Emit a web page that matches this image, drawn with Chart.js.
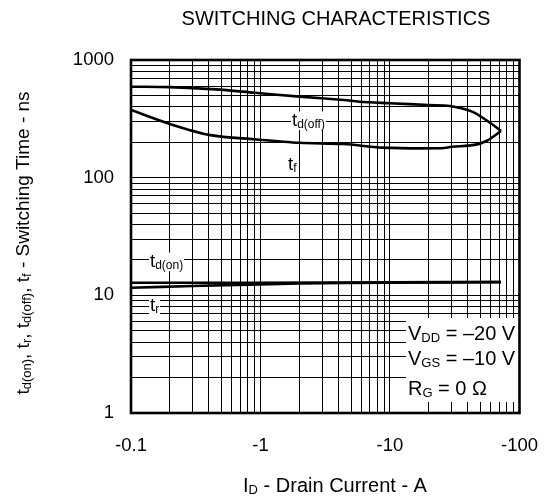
<!DOCTYPE html>
<html>
<head>
<meta charset="utf-8">
<script src="https://cdn.jsdelivr.net/npm/chart.js@4.4.0/dist/chart.umd.min.js"></script>
<style>
  html, body { margin: 0; padding: 0; background: #fff; }
  #wrap { width: 560px; height: 500px; }
</style>
</head>
<body>
<div id="wrap"><canvas id="switchChart" width="560" height="500"></canvas></div>
<script>
// Drain current is negative (P-channel); values below are |ID| in A, tick labels carry the sign
const tdOffCurrent = [0.1, 0.2, 0.45, 0.9, 2, 4.4, 5.8, 10, 20, 29, 43, 60, 72];
const tdOffTime = [593, 588, 563, 527, 488, 457, 442, 429, 414, 406, 364, 290, 249];
const tfCurrent = [0.1, 0.2, 0.41, 0.9, 2, 4.4, 8.7, 25, 30, 45, 56, 72];
const tfTime = [376, 286, 230, 212, 198, 193, 180, 178, 183, 190, 206, 249];
const tdOnCurrent = [0.1, 1, 10, 72];
const tdOnTime = [12.8, 12.8, 12.9, 13.0];
const trCurrent = [0.1, 0.3, 1, 2, 10, 72];
const trTime = [11.6, 12.0, 12.4, 12.6, 12.8, 12.95];

const xTickValues = [0.1, 1, 10, 100];
const xTickLabels = ["-0.1", "-1", "-10", "-100"];
const yTickValues = [1, 10, 100, 1000];
const yTickLabels = ["1", "10", "100", "1000"];

const FONT = "'Liberation Sans', Arial, sans-serif";

// grid lines at 1..9 of every decade
function decadeGrid(min, max) {
  const out = [];
  for (let d = min; d < max * 0.999; d *= 10) {
    for (let k = 1; k < 10; k++) out.push(d * k);
  }
  out.push(max);
  return out;
}

function labelFor(value, values, labels) {
  const i = values.findIndex((t) => Math.abs(t - value) / t < 1e-6);
  return i >= 0 ? labels[i] : "";
}

function toPoints(xs, ys) {
  return xs.map((x, i) => ({ x: x, y: ys[i] }));
}

// text with subscripts: parts = [[text, isSub], ...], y is the baseline
function richText(ctx, parts, x, y, size, measureOnly) {
  let cx = x;
  parts.forEach(([t, sub]) => {
    ctx.font = (sub ? Math.round(size * 0.66) : size) + "px " + FONT;
    if (!measureOnly) ctx.fillText(t, cx, y + (sub ? 1.5 : 0));
    cx += ctx.measureText(t).width;
  });
  return cx - x;
}

function labelWithBg(ctx, parts, x, y, size) {
  ctx.textAlign = "left";
  ctx.textBaseline = "alphabetic";
  const w = richText(ctx, parts, x, y, size, true);
  ctx.fillStyle = "#fff";
  ctx.fillRect(x - 1, y - size * 0.78, w + 2, size * 1.0);
  ctx.fillStyle = "#000";
  richText(ctx, parts, x, y, size);
}

const decor = {
  id: "decor",
  afterDatasetsDraw(chart) {
    const { ctx, chartArea: a } = chart;
    ctx.save();

    // curve labels
    labelWithBg(ctx, [["t", false], ["d(off)", true]], 292, 126, 18.5);
    labelWithBg(ctx, [["t", false], ["f", true]], 288, 170, 18.5);
    labelWithBg(ctx, [["t", false], ["d(on)", true]], 150, 267, 18.5);
    labelWithBg(ctx, [["t", false], ["r", true]], 150, 311, 18.5);

    // test conditions box
    ctx.fillStyle = "#fff";
    ctx.fillRect(406, 318, 115, 84);
    ctx.fillStyle = "#000";
    ctx.textAlign = "left";
    ctx.textBaseline = "alphabetic";
    richText(ctx, [["V", false], ["DD", true], [" = \u201320 V", false]], 408, 340, 20);
    richText(ctx, [["V", false], ["GS", true], [" = \u201310 V", false]], 408, 365, 20);
    richText(ctx, [["R", false], ["G", true], [" = 0 \u03A9", false]], 408, 395, 20);

    // heavy frame
    ctx.strokeStyle = "#000";
    ctx.lineWidth = 2.6;
    ctx.strokeRect(a.left, a.top, a.right - a.left, a.bottom - a.top);
    ctx.restore();
  },
  afterDraw(chart) {
    const ctx = chart.ctx;
    ctx.save();
    ctx.fillStyle = "#000";
    ctx.textBaseline = "alphabetic";

    // title
    ctx.textAlign = "center";
    ctx.font = "20px " + FONT;
    ctx.fillText("SWITCHING CHARACTERISTICS", 336, 25);

    // x axis title
    const xParts = [["I", false], ["D", true], [" - Drain Current - A", false]];
    ctx.textAlign = "left";
    const xw = richText(ctx, xParts, 0, 0, 20, true);
    richText(ctx, xParts, 335 - xw / 2, 492, 20);

    // y axis title (rotated)
    const yParts = [
      ["t", false], ["d(on)", true], [", t", false], ["r", true],
      [", t", false], ["d(off)", true], [", t", false], ["f", true],
      [" - Switching Time - ns", false],
    ];
    const yw = richText(ctx, yParts, 0, 0, 19, true);
    ctx.translate(29, 243);
    ctx.rotate(-Math.PI / 2);
    richText(ctx, yParts, -yw / 2, 0, 19);
    ctx.restore();
  },
};

const xGrid = decadeGrid(0.1, 100);
const yGrid = decadeGrid(1, 1000);

const curveStyle = {
  borderColor: "#000",
  borderWidth: 2.6,
  pointRadius: 0,
  fill: false,
  tension: 0.3,
};

new Chart(document.getElementById("switchChart").getContext("2d"), {
  type: "line",
  data: {
    datasets: [
      { label: "td(off)", data: toPoints(tdOffCurrent, tdOffTime), ...curveStyle },
      { label: "tf", data: toPoints(tfCurrent, tfTime), ...curveStyle },
      { label: "td(on)", data: toPoints(tdOnCurrent, tdOnTime), ...curveStyle },
      { label: "tr", data: toPoints(trCurrent, trTime), ...curveStyle },
    ],
  },
  options: {
    responsive: false,
    animation: false,
    events: [],
    layout: { padding: { top: 60, right: 23, bottom: 0, left: 0 } },
    plugins: {
      legend: { display: false },
      tooltip: { enabled: false },
      title: { display: false },
    },
    scales: {
      x: {
        type: "logarithmic",
        min: 0.1,
        max: 100,
        afterBuildTicks: (scale) => {
          scale.ticks = xGrid.map((v) => ({ value: v }));
        },
        afterFit: (scale) => {
          scale.height = 87;
        },
        ticks: {
          autoSkip: false,
          maxRotation: 0,
          padding: 22,
          color: "#000",
          font: { family: FONT, size: 18.5 },
          callback: (value) => labelFor(value, xTickValues, xTickLabels),
        },
        grid: { color: "#000", lineWidth: 1, drawTicks: false },
        border: { display: false },
      },
      y: {
        type: "logarithmic",
        min: 1,
        max: 1000,
        afterBuildTicks: (scale) => {
          scale.ticks = yGrid.map((v) => ({ value: v }));
        },
        afterFit: (scale) => {
          scale.width = 131;
        },
        ticks: {
          autoSkip: false,
          padding: 17,
          color: "#000",
          font: { family: FONT, size: 18.5 },
          callback: (value) => labelFor(value, yTickValues, yTickLabels),
        },
        grid: { color: "#000", lineWidth: 1, drawTicks: false },
        border: { display: false },
      },
    },
  },
  plugins: [decor],
});
</script>
</body>
</html>
